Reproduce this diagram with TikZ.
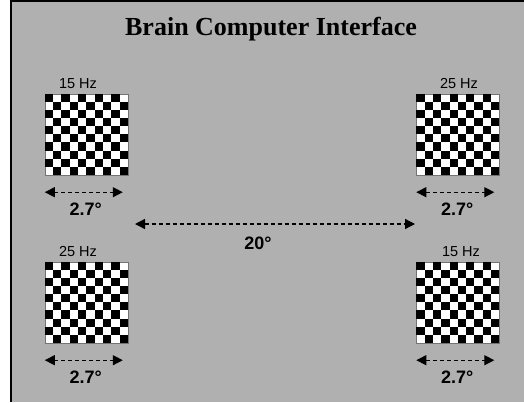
\documentclass[tikz,border=0pt]{standalone}
\usepackage{fontspec}
\setmainfont{Liberation Sans}
\newfontfamily\titlefont{Liberation Serif}
\usetikzlibrary{calc,arrows.meta}

\definecolor{panelgray}{RGB}{176,176,176}

\tikzset{
  boardbox/.style={draw=black!55,fill=white,inner sep=0pt,minimum width=83pt,minimum height=81pt},
  hzlabel/.style={anchor=base,inner sep=0pt,font=\fontsize{14.5}{16}\selectfont},
  deglabel/.style={anchor=base,inner sep=0pt,font=\fontsize{18}{20}\selectfont\bfseries},
  dimarrow/.style={line width=1.3pt,dash pattern=on 4pt off 3pt,{Triangle[length=10pt,width=10pt]}-{Triangle[length=10pt,width=10pt]}}
}

\begin{document}
\begin{tikzpicture}[x=1pt,y=-1pt]
                \useasboundingbox (0,0) rectangle (524,402);
                \fill[white] (0,0) rectangle (524,402);
                \fill[panelgray] (11,1) rectangle (524,402);
                \draw[line width=2pt] (11,402) -- (11,1) -- (524,1);
                \node[anchor=base,inner sep=0pt,font=\titlefont\fontsize{26}{30}\selectfont\bfseries] (title) at (271,35) {Brain Computer Interface};
                % the four flicker boards
                \foreach \name/\cx/\cy/\hz/\hx in {tl/86.5/134.5/15/78, tr/458/134.5/25/459, bl/86.5/302.5/25/78, br/458/302.5/15/461}{
                    \node[boardbox] (\name) at (\cx,\cy) {};
                    \foreach \i in {0,...,9}
                        \foreach \j in {0,...,9}{
                            \pgfmathtruncatemacro{\odd}{mod(\i+\j,2)}
                            \ifnum\odd=0
                                \fill[black] ($(\name.north west)+(\i*8.3,\j*8.1)$) rectangle ++(8.3,8.1);
                            \fi
                        }
                    \node[hzlabel] (\name-hz) at ([yshift=5pt]\name.north -| \hx,0) {\hz\ Hz};
                    \path ([yshift=-17pt]\name.south west) coordinate (\name-a) ++(78,0) coordinate (\name-b);
                    \draw[dimarrow] (\name-a) -- (\name-b);
                    \node[deglabel] (\name-deg) at ($(\name-a)!0.5!(\name-b)+(2,23)$) {2.7°};
                }
                % separation between the boards
                \coordinate (ml) at (135,224);
                \coordinate (mr) at (415,224);
                \draw[dimarrow] (ml) -- (mr);
                \node[deglabel] (sep) at (258,249) {20°};
            \end{tikzpicture}
\end{document}
